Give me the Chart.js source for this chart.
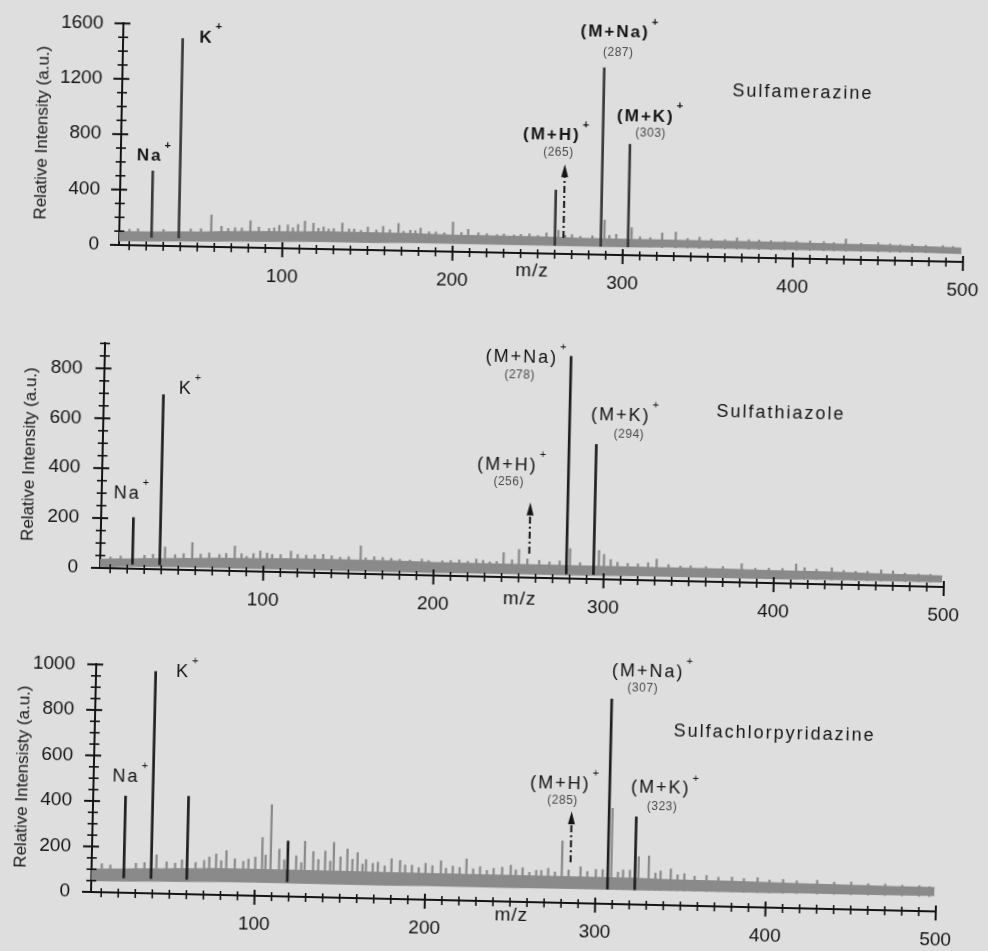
<!DOCTYPE html>
<html>
<head>
<meta charset="utf-8">
<title>MALDI spectra of three sulfonamides</title>
<script src="https://cdn.jsdelivr.net/npm/chart.js@4.4.0/dist/chart.umd.min.js"></script>
<style>
  html, body { margin: 0; padding: 0; background: #dedede; }
  #page { position: relative; width: 988px; height: 951px; overflow: hidden; }
  canvas { position: absolute; left: 0; }
  #c1 { top: 0px;   transform-origin: 119px 245px; transform: rotate(1.15deg); }
  #c2 { top: 318px; transform-origin: 100px 250px; transform: rotate(1.29deg); }
  #c3 { top: 640px; transform-origin: 91px 252px;  transform: rotate(1.32deg); }
</style>
</head>
<body>
<div id="page">
  <canvas id="c1" width="988" height="310"></canvas>
  <canvas id="c2" width="988" height="300"></canvas>
  <canvas id="c3" width="988" height="311"></canvas>
</div>
<script>
// m/z points of the chemical-noise envelope
const bandMz = [4, 25, 50, 75, 100, 125, 150, 175, 200, 225, 250, 275, 300, 325, 350, 375, 400, 425, 450, 475, 499];
const xTicks = [100, 200, 300, 400, 500];

// --- Sulfamerazine ---
const bandLow1  = [30, 35, 40, 45, 50, 55, 55, 60, 60, 60, 60, 60, 60, 65, 65, 65, 65, 65, 65, 65, 60];
const bandHigh1 = [95, 100, 105, 115, 120, 125, 125, 125, 120, 120, 120, 115, 115, 115, 115, 115, 115, 110, 110, 105, 100];
const peaks1 = [[23, 540], [39, 1500], [260, 460], [287, 1350], [303, 800]];
const noise1 = [[58, 230], [64, 150], [72, 140], [81, 195], [86, 150], [92, 140], [98, 165], [103, 170],
  [109, 175], [113, 200], [118, 185], [124, 160], [130, 150], [135, 190], [142, 150], [150, 165],
  [159, 172], [163, 150], [168, 197], [175, 150], [181, 165], [190, 140], [200, 215], [209, 163],
  [215, 140], [230, 135], [245, 140], [255, 150], [262, 170], [270, 140], [289, 250], [296, 150],
  [305, 200], [323, 165], [331, 175], [345, 140], [367, 140], [380, 130], [395, 122], [410, 130],
  [431, 150], [450, 125], [470, 120], [488, 115],
  [10, 115], [15, 120], [30, 118], [46, 125], [52, 130], [68, 135], [76, 140], [95, 145],
  [106, 150], [121, 150], [127, 145], [139, 150], [146, 140], [155, 145], [171, 140], [178, 145],
  [186, 140], [195, 135], [205, 140], [220, 135], [226, 130], [236, 130], [240, 135], [250, 130],
  [266, 135], [275, 130], [282, 135], [292, 140], [310, 135], [316, 130], [338, 130], [352, 130],
  [360, 125], [374, 130], [387, 125], [402, 125], [418, 125], [424, 120], [440, 120], [457, 118],
  [463, 115], [478, 115], [494, 110]];
const yTicks1 = [0, 400, 800, 1200, 1600];

// --- Sulfathiazole ---
const bandLow2  = [5, 10, 12, 12, 12, 12, 12, 12, 12, 14, 15, 15, 16, 18, 18, 18, 18, 20, 20, 20, 20];
const bandHigh2 = [35, 40, 45, 50, 52, 55, 55, 55, 52, 52, 52, 52, 52, 52, 52, 52, 50, 50, 48, 46, 44];
const peaks2 = [[23, 205], [39, 700], [278, 890], [294, 540]];
const noise2 = [[42, 90], [58, 110], [68, 70], [83, 100], [90, 60], [98, 83], [105, 70], [116, 85],
  [125, 70], [135, 75], [145, 65], [157, 112], [165, 70], [175, 65], [186, 60], [193, 65],
  [205, 60], [215, 65], [225, 70], [233, 60], [241, 98], [250, 112], [262, 70], [280, 120],
  [297, 115], [300, 100], [308, 70], [320, 65], [331, 86], [345, 60], [360, 60], [381, 75],
  [397, 60], [413, 79], [425, 60], [434, 67], [448, 55], [463, 63], [470, 60], [485, 50],
  [10, 45], [16, 50], [30, 55], [35, 60], [48, 60], [53, 65], [63, 65], [74, 65], [78, 70],
  [87, 70], [94, 72], [102, 75], [110, 70], [120, 72], [130, 72], [140, 70], [150, 68],
  [160, 65], [170, 68], [180, 62], [197, 60], [210, 62], [220, 60], [229, 65], [237, 62],
  [246, 70], [255, 75], [268, 65], [274, 70], [286, 65], [304, 80], [314, 66], [326, 70],
  [338, 65], [351, 62], [370, 62], [389, 58], [405, 60], [418, 65], [441, 57], [455, 56],
  [477, 52], [492, 50]];
const yTicks2 = [0, 200, 400, 600, 800];

// --- Sulfachlorpyridazine ---
const bandLow3  = [50, 52, 55, 58, 60, 60, 60, 60, 62, 62, 62, 64, 65, 65, 66, 66, 66, 68, 68, 69, 70];
const bandHigh3 = [100, 105, 110, 115, 116, 116, 116, 115, 115, 115, 115, 115, 115, 115, 112, 112, 110, 108, 106, 105, 105];
const peaks3 = [[23, 425], [39, 975], [60, 430], [119, 243], [307, 900], [323, 385]];
const noise3 = [[42, 170], [70, 150], [77, 180], [83, 195], [88, 160], [93, 150], [100, 170], [104, 257],
  [109, 402], [114, 207], [124, 180], [129, 245], [134, 200], [141, 203], [146, 242], [150, 180],
  [154, 215], [160, 200], [165, 170], [172, 160], [180, 176], [185, 170], [192, 150], [200, 160],
  [209, 172], [216, 150], [224, 183], [232, 150], [240, 145], [250, 160], [257, 150], [265, 140],
  [272, 150], [280, 272], [291, 160], [300, 150], [309, 420], [316, 150], [325, 210], [331, 215],
  [338, 150], [344, 160], [352, 140], [365, 135], [380, 130], [395, 130], [410, 125], [430, 125],
  [450, 120], [470, 115], [490, 112],
  [10, 125], [15, 120], [30, 130], [35, 135], [48, 140], [53, 135], [57, 150], [65, 140],
  [73, 165], [80, 150], [96, 160], [106, 180], [117, 160], [127, 150], [137, 165], [144, 160],
  [157, 170], [163, 150], [169, 155], [176, 145], [188, 150], [196, 140], [204, 150], [212, 140],
  [220, 145], [228, 140], [236, 135], [245, 150], [253, 140], [261, 130], [268, 140], [276, 135],
  [284, 145], [295, 140], [304, 150], [313, 140], [320, 150], [335, 140], [348, 135], [358, 130],
  [372, 128], [387, 125], [402, 122], [418, 120], [440, 118], [460, 115], [480, 112], [496, 108]];
const yTicks3 = [0, 200, 400, 600, 800, 1000];

// ion annotations: text, anchor (m/z, intensity), kind
const notes1 = [
  { text: 'Na', mz: 21, y: 645, kind: 'ion' },
  { text: 'K', mz: 53, y: 1510, kind: 'ion' },
  { text: '(M+H)', mz: 257, y: 855, kind: 'ion' },
  { text: '(265)', mz: 261, y: 730, kind: 'mass' },
  { text: '(M+Na)', mz: 293, y: 1605, kind: 'ion' },
  { text: '(287)', mz: 295, y: 1464, kind: 'mass' },
  { text: '(M+K)', mz: 312, y: 1003, kind: 'ion' },
  { text: '(303)', mz: 315, y: 880, kind: 'mass' },
  { text: 'Sulfamerazine', mz: 404, y: 1200, kind: 'name' }
];
const notes2 = [
  { text: 'Na', mz: 19, y: 299, kind: 'ion' },
  { text: 'K', mz: 52, y: 724, kind: 'ion' },
  { text: '(M+H)', mz: 242, y: 448, kind: 'ion' },
  { text: '(256)', mz: 243, y: 383, kind: 'mass' },
  { text: '(M+Na)', mz: 249, y: 880, kind: 'ion' },
  { text: '(278)', mz: 248, y: 809, kind: 'mass' },
  { text: '(M+K)', mz: 308, y: 659, kind: 'ion' },
  { text: '(294)', mz: 313, y: 584, kind: 'mass' },
  { text: 'Sulfathiazole', mz: 402, y: 680, kind: 'name' }
];
const notes3 = [
  { text: 'Na', mz: 23, y: 510, kind: 'ion' },
  { text: 'K', mz: 55, y: 977, kind: 'ion' },
  { text: '(M+H)', mz: 278, y: 524, kind: 'ion' },
  { text: '(285)', mz: 279.5, y: 449, kind: 'mass' },
  { text: '(M+Na)', mz: 328, y: 1023, kind: 'ion' },
  { text: '(307)', mz: 325, y: 950, kind: 'mass' },
  { text: '(M+K)', mz: 337, y: 512, kind: 'ion' },
  { text: '(323)', mz: 338, y: 433, kind: 'mass' },
  { text: 'Sulfachlorpyridazine', mz: 403, y: 766, kind: 'name' }
];

// dash-dot arrows pointing at the weak (M+H)+ ions
const arrow1 = { mz: 265, from: 115, to: 648 };
const arrow2 = { mz: 256, from: 96, to: 302 };
const arrow3 = { mz: 285, from: 179, to: 403 };

const INK = '#141414';
const NOISE = '#8a8a8a';

// per-canvas extras used by the decoration plugin
const extras = {};

const spectrumDecor = {
  id: 'spectrumDecor',
  afterDraw(chart) {
    const ex = extras[chart.canvas.id];
    const { ctx, chartArea: area } = chart;
    const xs = chart.scales.x, ys = chart.scales.y;
    ctx.save();
    ctx.strokeStyle = INK;
    ctx.fillStyle = INK;

    // tick marks crossing the m/z axis
    for (let v = 10; v <= xs.max; v += 10) {
      const px = xs.getPixelForValue(v);
      const major = v % 100 === 0;
      ctx.lineWidth = major ? 2 : 1.6;
      ctx.beginPath();
      ctx.moveTo(px, area.bottom - (major ? 6 : 4));
      ctx.lineTo(px, area.bottom + (major ? 9 : 5));
      ctx.stroke();
    }
    // tick marks crossing the intensity axis
    for (let v = 0; v <= ys.max; v += ex.minorY) {
      const py = ys.getPixelForValue(v);
      const major = ex.yTicks.includes(v);
      ctx.lineWidth = major ? 2 : 1.6;
      ctx.beginPath();
      ctx.moveTo(area.left - (major ? 9 : 5), py);
      ctx.lineTo(area.left + (major ? 7 : 5), py);
      ctx.stroke();
    }

    // m/z caption between the 200 and 300 labels
    ctx.font = '19px "Liberation Sans", Arial, sans-serif';
    ctx.letterSpacing = '1px';
    ctx.textAlign = 'center';
    ctx.textBaseline = 'middle';
    ctx.fillText('m/z', xs.getPixelForValue(ex.mzCaption), area.bottom + ex.mzDy);

    // dash-dot arrow
    const a = ex.arrow;
    const ax = xs.getPixelForValue(a.mz);
    const y0 = ys.getPixelForValue(a.from);
    const y1 = ys.getPixelForValue(a.to);
    ctx.lineWidth = 2;
    ctx.setLineDash([7, 3, 2, 3]);
    ctx.beginPath();
    ctx.moveTo(ax, y0);
    ctx.lineTo(ax, y1 + 10);
    ctx.stroke();
    ctx.setLineDash([]);
    ctx.beginPath();
    ctx.moveTo(ax, y1);
    ctx.lineTo(ax - 3.5, y1 + 13);
    ctx.lineTo(ax + 3.5, y1 + 13);
    ctx.closePath();
    ctx.fill();

    // peak labels
    for (const n of ex.notes) {
      const px = xs.getPixelForValue(n.mz);
      const py = ys.getPixelForValue(n.y);
      if (n.kind === 'mass') {
        ctx.font = '12px "Liberation Sans", Arial, sans-serif';
        ctx.letterSpacing = '0.5px';
        ctx.fillStyle = '#4a4a4a';
        ctx.fillText(n.text, px, py);
      } else if (n.kind === 'name') {
        ctx.font = '18px "Liberation Sans", Arial, sans-serif';
        ctx.letterSpacing = '2px';
        ctx.fillStyle = INK;
        ctx.fillText(n.text, px, py);
      } else {
        ctx.font = ex.ionFont;
        ctx.letterSpacing = '2px';
        ctx.fillStyle = INK;
        ctx.fillText(n.text, px, py);
        const w = ctx.measureText(n.text).width;
        ctx.font = ex.supFont;
        ctx.letterSpacing = '0px';
        ctx.fillText('+', px + w / 2 + 5, py - 11);
      }
    }
    ctx.restore();
  }
};

function drawSpectrum(id, s) {
  extras[id] = {
    notes: s.notes, arrow: s.arrow, yTicks: s.yTicks, minorY: s.minorY,
    mzCaption: s.mzCaption, mzDy: s.mzDy, ionFont: s.ionFont, supFont: s.supFont
  };
  const ctx = document.getElementById(id).getContext('2d');
  return new Chart(ctx, {
    type: 'bar',
    data: {
      datasets: [
        {
          type: 'line',
          data: bandMz.map((m, i) => ({ x: m, y: s.bandHigh[i] })),
          borderColor: NOISE,
          borderWidth: 1,
          backgroundColor: NOISE,
          pointRadius: 0,
          tension: 0,
          fill: '+1',
          order: 3
        },
        {
          type: 'line',
          data: bandMz.map((m, i) => ({ x: m, y: s.bandLow[i] })),
          borderColor: NOISE,
          borderWidth: 1,
          pointRadius: 0,
          tension: 0,
          fill: false,
          order: 3
        },
        {
          // noise spikes rise out of the envelope, not from zero
          data: s.noise.map(([m, h]) => ({ x: m, y: h })),
          backgroundColor: NOISE,
          base: s.base,
          barThickness: 1.6,
          grouped: false,
          order: 2
        },
        {
          data: s.peaks.map(([m, h]) => ({ x: m, y: h })),
          backgroundColor: s.peakColor,
          base: s.base,
          barThickness: 2,
          grouped: false,
          order: 1
        }
      ]
    },
    options: {
      responsive: false,
      animation: false,
      layout: { padding: { top: s.padTop, right: s.padRight, left: 0, bottom: 0 } },
      plugins: { legend: { display: false }, tooltip: { enabled: false } },
      scales: {
        x: {
          type: 'linear',
          min: 4,
          max: 500,
          offset: false,
          grid: { display: false },
          border: { display: true, color: INK, width: 2 },
          afterBuildTicks: (scale) => { scale.ticks = xTicks.map(v => ({ value: v })); },
          afterFit: (scale) => { scale.height = s.xAxisH; },
          ticks: {
            autoSkip: false,
            maxRotation: 0,
            padding: 9,
            color: INK,
            callback: (v) => String(v),
            font: { family: '"Liberation Sans", Arial, sans-serif', size: 19 }
          }
        },
        y: {
          type: 'linear',
          min: 0,
          max: s.yMax,
          grid: { display: false },
          border: { display: true, color: INK, width: 2 },
          afterBuildTicks: (scale) => { scale.ticks = s.yTicks.map(v => ({ value: v })); },
          afterFit: (scale) => { scale.width = s.yAxisW; },
          ticks: {
            autoSkip: false,
            padding: s.yPad,
            color: INK,
            callback: (v) => String(v),
            font: { family: '"Liberation Sans", Arial, sans-serif', size: 19 }
          },
          title: {
            display: true,
            text: s.yTitle,
            color: INK,
            padding: { top: s.titlePad, bottom: 0 },
            font: { family: '"Liberation Sans Narrow", "Liberation Sans", Arial, sans-serif', size: 17 }
          }
        }
      }
    },
    plugins: [spectrumDecor]
  });
}

drawSpectrum('c1', {
  bandLow: bandLow1, bandHigh: bandHigh1, peaks: peaks1, noise: noise1, peakColor: '#3a3a3a', base: 60,
  yTicks: yTicks1, minorY: 100, yMax: 1600, notes: notes1, arrow: arrow1,
  yTitle: 'Relative Intensity (a.u.)',
  padTop: 13, padRight: 23, xAxisH: 65, yAxisW: 119, yPad: 12, titlePad: 30,
  mzCaption: 247, mzDy: 18,
  ionFont: 'bold 17px "Liberation Sans", Arial, sans-serif', supFont: 'bold 11px "Liberation Sans", Arial, sans-serif'
});

drawSpectrum('c2', {
  bandLow: bandLow2, bandHigh: bandHigh2, peaks: peaks2, noise: noise2, peakColor: '#1e1e1e', base: 18,
  yTicks: yTicks2, minorY: 50, yMax: 900, notes: notes2, arrow: arrow2,
  yTitle: 'Relative Intensity (a.u.)',
  padTop: 18, padRight: 44, xAxisH: 50, yAxisW: 100, yPad: 14, titlePad: 17,
  mzCaption: 251, mzDy: 22,
  ionFont: '18px "Liberation Sans", Arial, sans-serif', supFont: '11px "Liberation Sans", Arial, sans-serif'
});

drawSpectrum('c3', {
  bandLow: bandLow3, bandHigh: bandHigh3, peaks: peaks3, noise: noise3, peakColor: '#1e1e1e', base: 65,
  yTicks: yTicks3, minorY: 50, yMax: 1000, notes: notes3, arrow: arrow3,
  yTitle: 'Relative Intensisty (a.u.)',
  padTop: 21, padRight: 52, xAxisH: 59, yAxisW: 91, yPad: 13, titlePad: 10,
  mzCaption: 251, mzDy: 14,
  ionFont: '18px "Liberation Sans", Arial, sans-serif', supFont: '11px "Liberation Sans", Arial, sans-serif'
});
</script>
</body>
</html>
